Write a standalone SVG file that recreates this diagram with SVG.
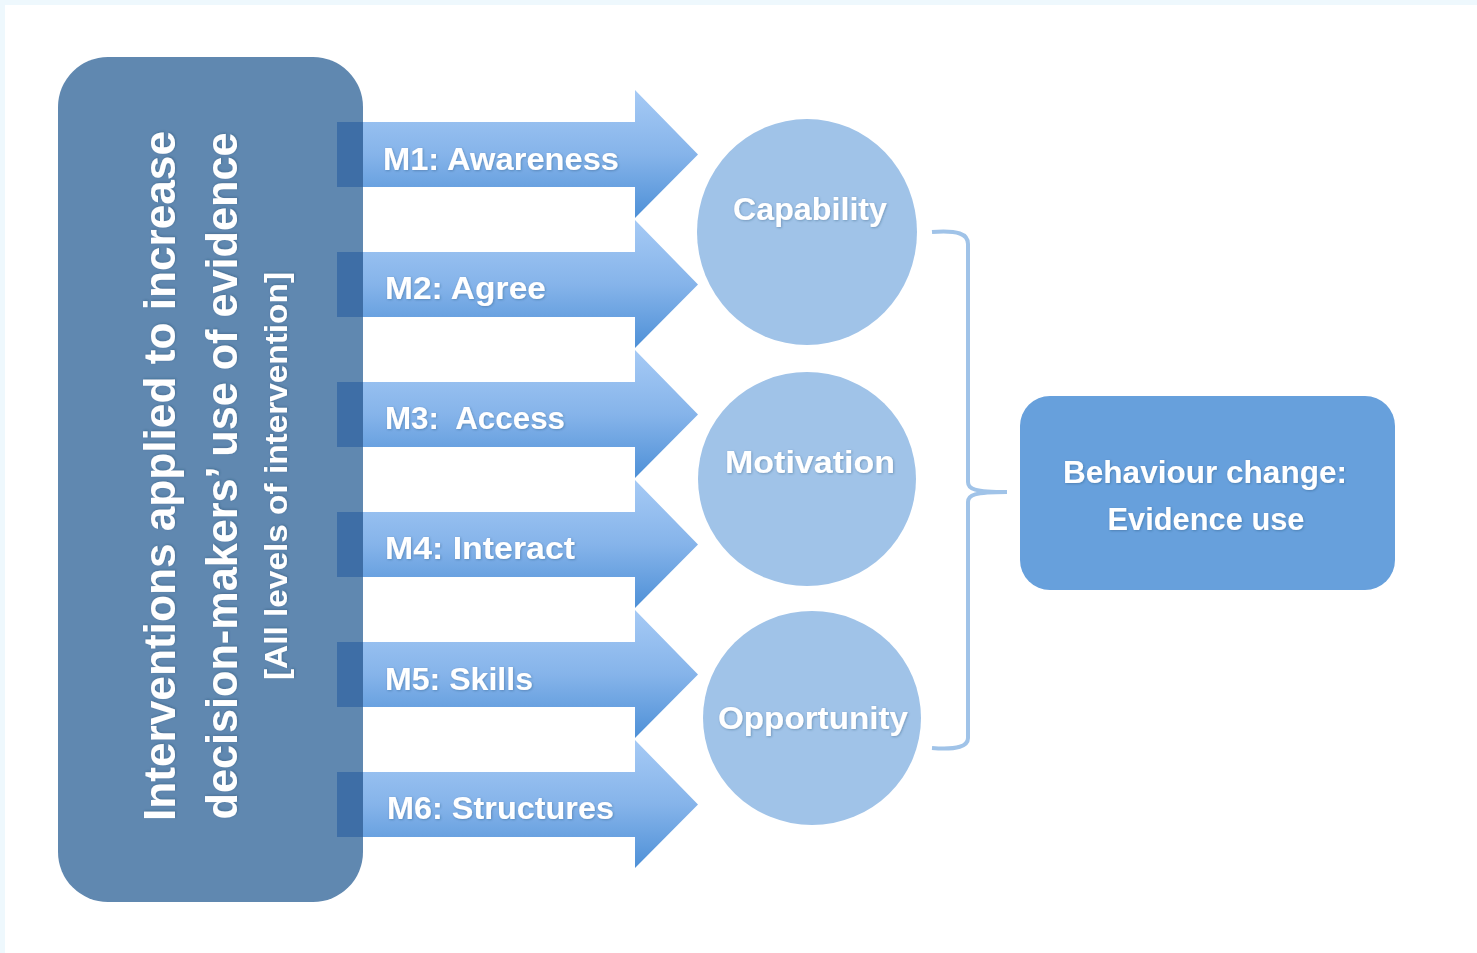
<svg xmlns="http://www.w3.org/2000/svg" width="1477" height="953" viewBox="0 0 1477 953">
<style>
.lbl{font-family:"Liberation Sans",Arial,sans-serif;font-weight:bold;fill:#ffffff;filter:url(#sh)}
.arrow{fill:url(#ag)}
.ov{fill:#3E6EA6}
.circ{fill:#A0C3E8}
</style>
<defs>
<linearGradient id="ag" x1="0" y1="0" x2="0" y2="1">
<stop offset="0" stop-color="#A6CAF5"/>
<stop offset="0.5" stop-color="#86B4EA"/>
<stop offset="1" stop-color="#4E90D7"/>
</linearGradient>
<filter id="sh" x="-5%" y="-20%" width="110%" height="140%">
<feDropShadow dx="0.8" dy="0.8" stdDeviation="0.8" flood-color="#1f3b5c" flood-opacity="0.35"/>
</filter>
</defs>
<rect x="0" y="0" width="1477" height="953" fill="#EEF8FD"/>
<rect x="5" y="5" width="1472" height="948" fill="#ffffff"/>

<g id="interventions">
<rect x="58" y="57" width="305" height="845" rx="50" ry="50" fill="#6088B0"/>
<text class="lbl" font-size="44" text-anchor="middle" transform="translate(175,476) rotate(-90)" textLength="690" lengthAdjust="spacingAndGlyphs">Interventions applied to increase</text>
<text class="lbl" font-size="44" text-anchor="middle" transform="translate(237,476) rotate(-90)" textLength="687" lengthAdjust="spacingAndGlyphs">decision-makers’ use of evidence</text>
<text class="lbl" font-size="32" text-anchor="middle" transform="translate(287,476) rotate(-90)" textLength="408" lengthAdjust="spacingAndGlyphs">[All levels of intervention]</text>
</g>

<g id="connectors">
<g id="m1" transform="translate(0,154.5)">
<path class="arrow" d="M337,-32.5 H635 V-64.5 L698,0 L635,63.5 V32.5 H337 Z"/>
<rect class="ov" x="337" y="-32.5" width="26" height="65"/>
<text class="lbl" font-size="32" x="383" y="15.5" textLength="236" lengthAdjust="spacingAndGlyphs">M1: Awareness</text>
</g>
<g id="m2" transform="translate(0,284.5)">
<path class="arrow" d="M337,-32.5 H635 V-64.5 L698,0 L635,63.5 V32.5 H337 Z"/>
<rect class="ov" x="337" y="-32.5" width="26" height="65"/>
<text class="lbl" font-size="32" x="385" y="14.5" textLength="161" lengthAdjust="spacingAndGlyphs">M2: Agree</text>
</g>
<g id="m3" transform="translate(0,414.5)">
<path class="arrow" d="M337,-32.5 H635 V-64.5 L698,0 L635,63.5 V32.5 H337 Z"/>
<rect class="ov" x="337" y="-32.5" width="26" height="65"/>
<text class="lbl" font-size="32" x="385" y="14.5" textLength="180" lengthAdjust="spacingAndGlyphs" xml:space="preserve">M3:  Access</text>
</g>
<g id="m4" transform="translate(0,544.5)">
<path class="arrow" d="M337,-32.5 H635 V-64.5 L698,0 L635,63.5 V32.5 H337 Z"/>
<rect class="ov" x="337" y="-32.5" width="26" height="65"/>
<text class="lbl" font-size="32" x="385" y="14.5" textLength="190" lengthAdjust="spacingAndGlyphs">M4: Interact</text>
</g>
<g id="m5" transform="translate(0,674.5)">
<path class="arrow" d="M337,-32.5 H635 V-64.5 L698,0 L635,63.5 V32.5 H337 Z"/>
<rect class="ov" x="337" y="-32.5" width="26" height="65"/>
<text class="lbl" font-size="32" x="385" y="15" textLength="148" lengthAdjust="spacingAndGlyphs">M5: Skills</text>
</g>
<g id="m6" transform="translate(0,804.5)">
<path class="arrow" d="M337,-32.5 H635 V-64.5 L698,0 L635,63.5 V32.5 H337 Z"/>
<rect class="ov" x="337" y="-32.5" width="26" height="65"/>
<text class="lbl" font-size="32" x="387" y="14" textLength="227" lengthAdjust="spacingAndGlyphs">M6: Structures</text>
</g>
<path id="brace" d="M932,232 C958,230 968,234 968,244 L968,482 C968,489 974,492 1007,492 C974,492 968,495 968,502 L968,738 C968,746 958,750 932,748" fill="none" stroke="#A0C3E8" stroke-width="4"/>
</g>

<g id="capability">
<ellipse class="circ" cx="807" cy="232" rx="110" ry="113"/>
<text class="lbl" font-size="31" x="810" y="220" text-anchor="middle" textLength="154" lengthAdjust="spacingAndGlyphs">Capability</text>
</g>
<g id="motivation">
<ellipse class="circ" cx="807" cy="479" rx="109" ry="107"/>
<text class="lbl" font-size="31" x="810" y="473" text-anchor="middle" textLength="170" lengthAdjust="spacingAndGlyphs">Motivation</text>
</g>
<g id="opportunity">
<ellipse class="circ" cx="812" cy="718" rx="109" ry="107"/>
<text class="lbl" font-size="31" x="813" y="729" text-anchor="middle" textLength="190" lengthAdjust="spacingAndGlyphs">Opportunity</text>
</g>

<g id="behaviour">
<rect x="1020" y="396" width="375" height="194" rx="30" ry="30" fill="#67A0DC"/>
<text class="lbl" font-size="31" x="1205" y="483" text-anchor="middle" textLength="284" lengthAdjust="spacingAndGlyphs">Behaviour change:</text>
<text class="lbl" font-size="31" x="1206" y="530" text-anchor="middle" textLength="197" lengthAdjust="spacingAndGlyphs">Evidence use</text>
</g>
</svg>
